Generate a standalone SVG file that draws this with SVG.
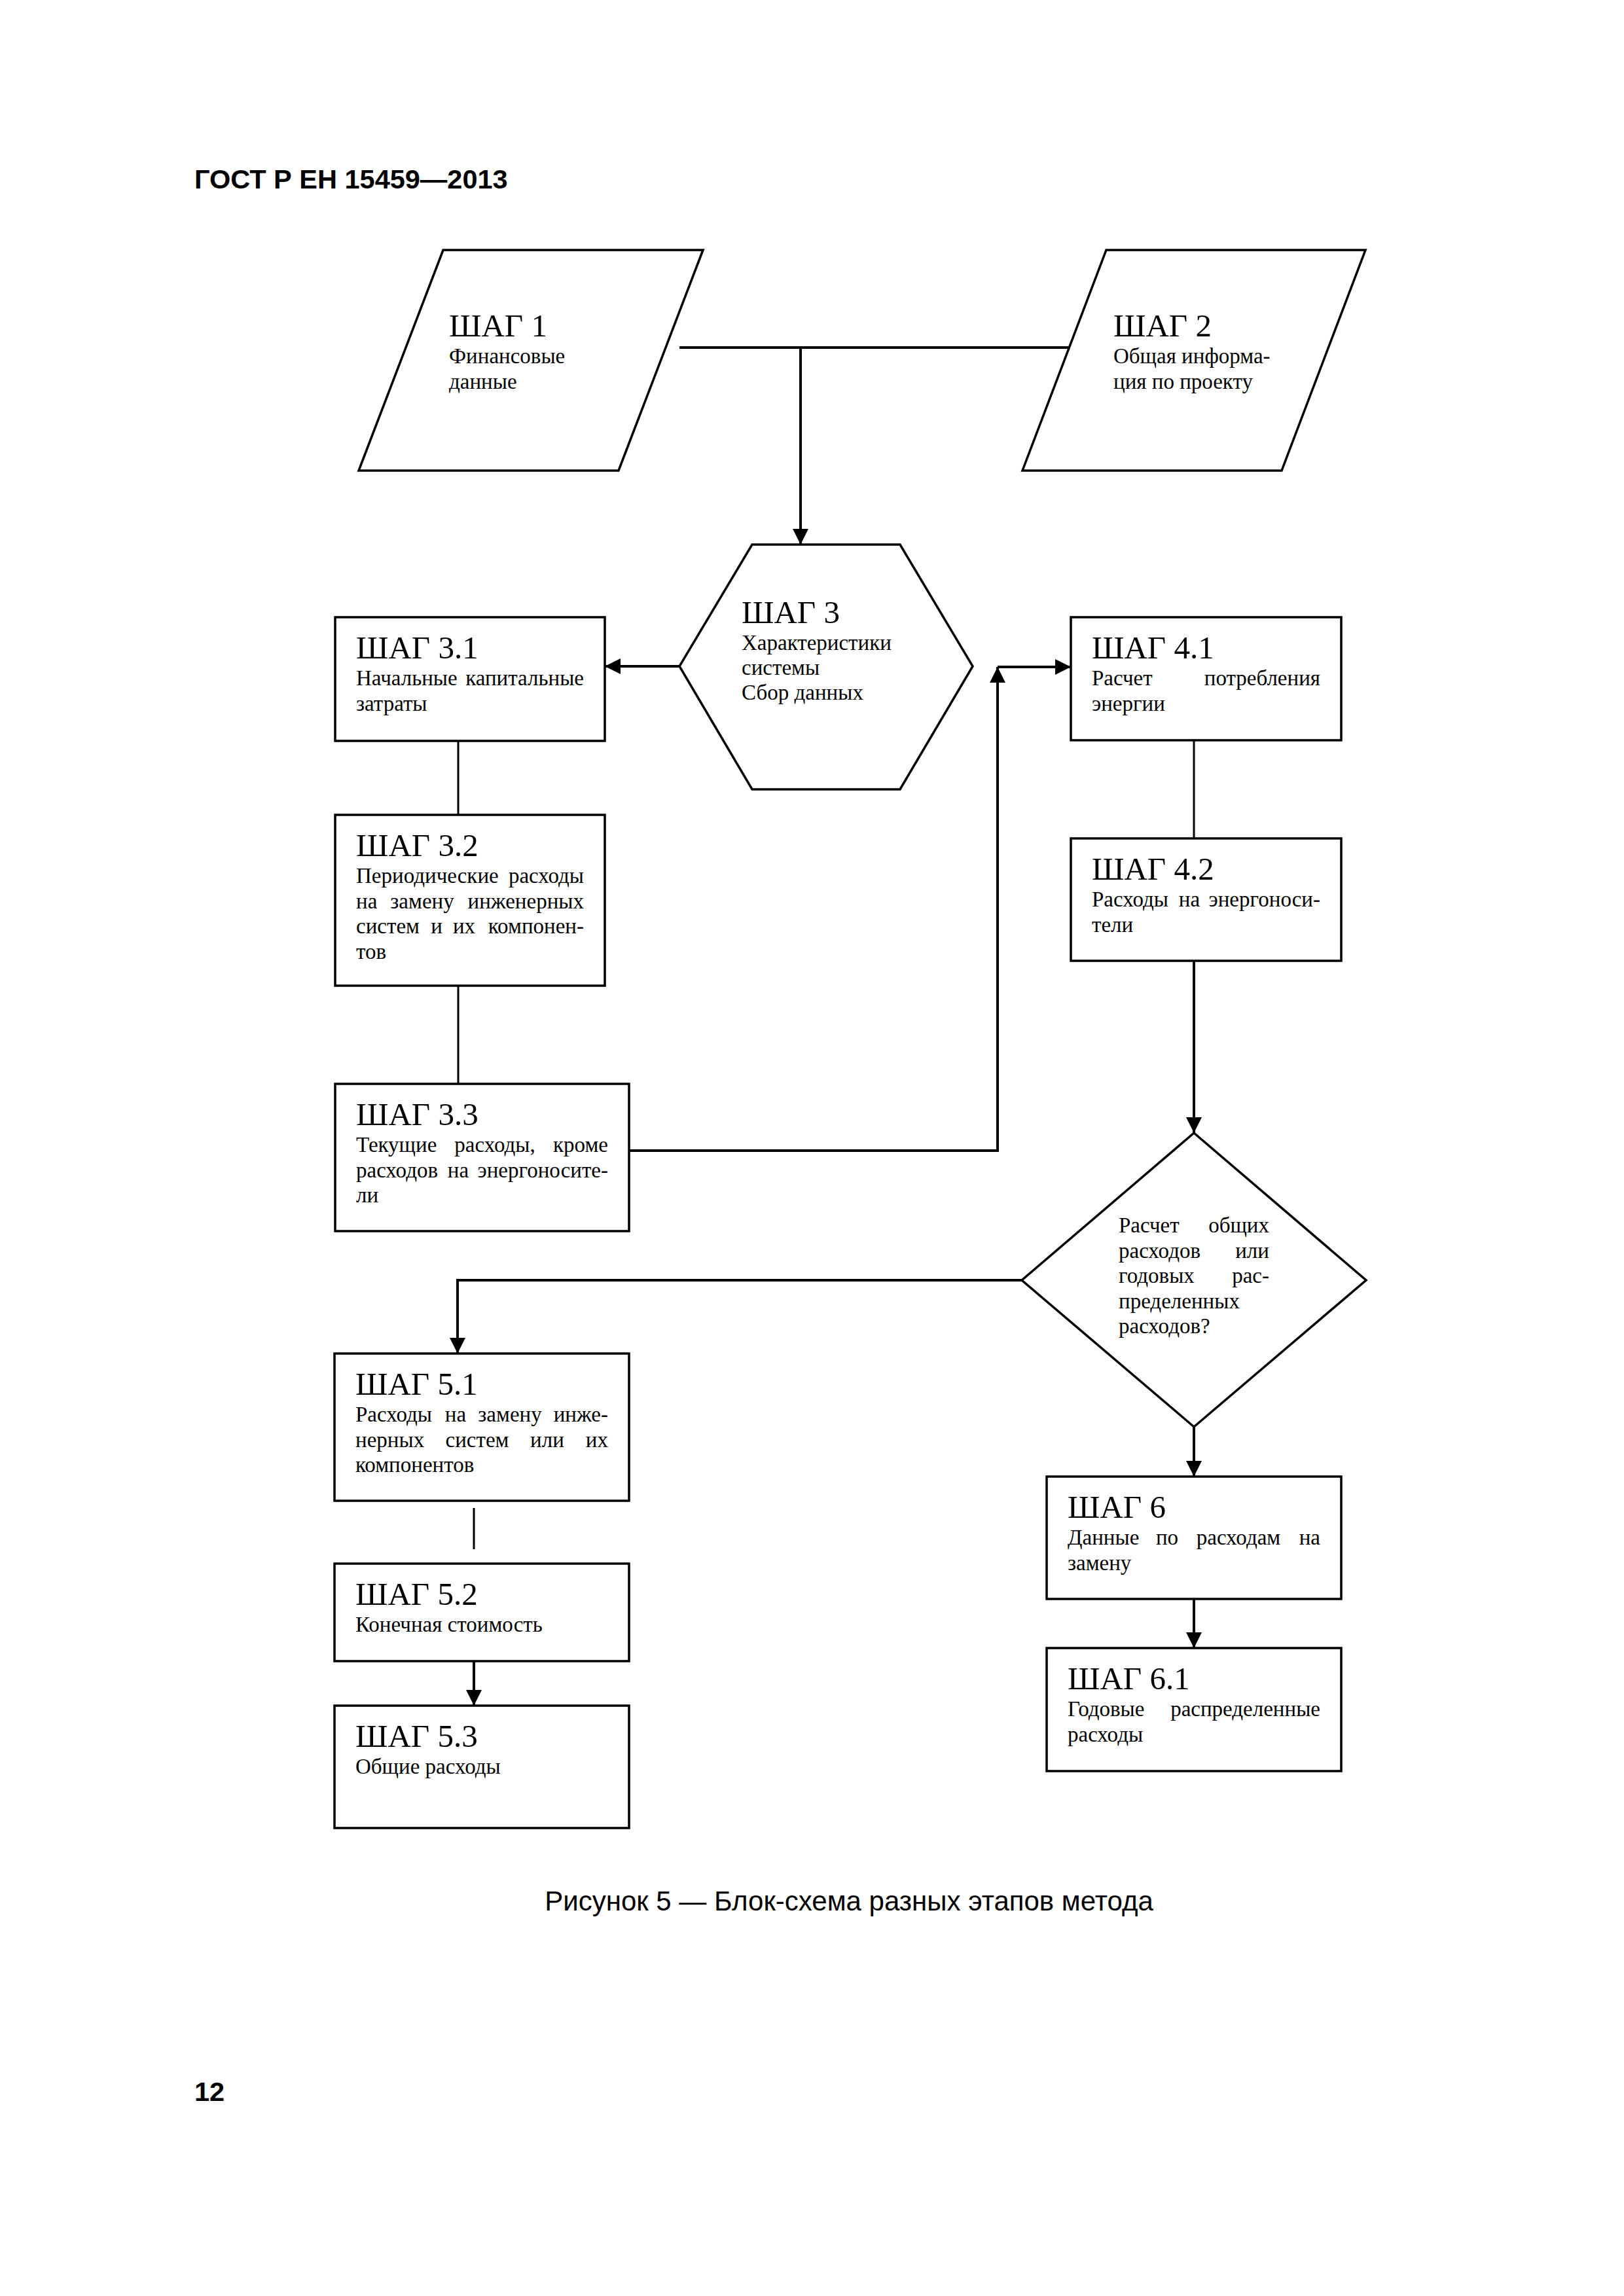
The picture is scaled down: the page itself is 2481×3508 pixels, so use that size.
<svg xmlns="http://www.w3.org/2000/svg" width="2481" height="3508" viewBox="0 0 2481 3508">
<style>
.shape{fill:#fff;stroke:#000;stroke-width:3.5}
.c{fill:none;stroke:#000;stroke-width:4}
.cl{fill:none;stroke:#000;stroke-width:3}
.t{font-family:"Liberation Serif","Times New Roman",serif;font-size:49px;fill:#000}
.b{font-family:"Liberation Serif","Times New Roman",serif;font-size:33px;fill:#000}
.e{text-anchor:end}
.m{text-anchor:middle}
.h{font-family:"Liberation Sans",Arial,sans-serif;font-weight:bold;font-size:41.5px;fill:#000}
.cap{font-family:"Liberation Sans",Arial,sans-serif;font-size:42px;fill:#000;text-anchor:middle}
</style>
<defs>
<marker id="arr" markerUnits="userSpaceOnUse" markerWidth="26" markerHeight="26" refX="24" refY="12" orient="auto">
<path d="M0,0 L24,12 L0,24 z" fill="#000"/>
</marker>
</defs>
<rect width="2481" height="3508" fill="#fff"/>
<text class="h" x="297" y="288">ГОСТ Р ЕН 15459—2013</text>

<g id="connectors">
<path class="c" d="M1038,531 H1634"/>
<path class="c" d="M1223,531 V832" marker-end="url(#arr)"/>
<path class="c" d="M1038,1018 H924" marker-end="url(#arr)"/>
<path class="cl" d="M700,1132 V1245"/>
<path class="cl" d="M700,1506 V1656"/>
<path class="c" d="M961,1758 H1524 V1019" marker-end="url(#arr)"/>
<path class="c" d="M1524,1019 H1636" marker-end="url(#arr)"/>
<path class="cl" d="M1824,1131 V1281"/>
<path class="c" d="M1824,1468 V1731" marker-end="url(#arr)"/>
<path class="c" d="M1561,1956 H699 V2068" marker-end="url(#arr)"/>
<path class="c" d="M1824,2180 V2256" marker-end="url(#arr)"/>
<path class="c" d="M1824,2443 V2518" marker-end="url(#arr)"/>
<path class="cl" d="M724,2304 V2367"/>
<path class="c" d="M724,2538 V2606" marker-end="url(#arr)"/>
</g>

<g id="step1">
<polygon class="shape" points="677,382 1074,382 945,719 548,719"/>
<text class="t" x="686" y="514">ШАГ 1</text>
<text class="b" x="686" y="555">Финансовые</text>
<text class="b" x="686" y="593.5">данные</text>
</g>

<g id="step2">
<polygon class="shape" points="1690,382 2086,382 1958,719 1562,719"/>
<text class="t" x="1701" y="514">ШАГ 2</text>
<text class="b" x="1701" y="555">Общая информа-</text>
<text class="b" x="1701" y="593.5">ция по проекту</text>
</g>

<g id="step3">
<polygon class="shape" points="1149,832 1375,832 1486,1018 1375,1206 1149,1206 1038,1018"/>
<text class="t" x="1133" y="952">ШАГ 3</text>
<text class="b" x="1133" y="993">Характеристики</text>
<text class="b" x="1133" y="1031">системы</text>
<text class="b" x="1133" y="1069">Сбор данных</text>
</g>

<g id="step3_1">
<rect class="shape" x="512" y="943" width="412" height="189"/>
<text class="t" x="544" y="1006">ШАГ 3.1</text>
<text class="b" x="544" y="1047">Начальные</text>
<text class="b e" x="892" y="1047">капитальные</text>
<text class="b" x="544" y="1085.5">затраты</text>
</g>

<g id="step3_2">
<rect class="shape" x="512" y="1245" width="412" height="261"/>
<text class="t" x="544" y="1308">ШАГ 3.2</text>
<text class="b" x="544" y="1349">Периодические</text>
<text class="b e" x="892" y="1349">расходы</text>
<text class="b" x="544" y="1387.5">на</text>
<text class="b m" x="645" y="1387.5">замену</text>
<text class="b e" x="892" y="1387.5">инженерных</text>
<text class="b" x="544" y="1426">систем</text>
<text class="b m" x="667" y="1426">и</text>
<text class="b m" x="709" y="1426">их</text>
<text class="b e" x="892" y="1426">компонен-</text>
<text class="b" x="544" y="1464.5">тов</text>
</g>

<g id="step3_3">
<rect class="shape" x="512" y="1656" width="449" height="225"/>
<text class="t" x="544" y="1719">ШАГ 3.3</text>
<text class="b" x="544" y="1760">Текущие</text>
<text class="b m" x="756" y="1760">расходы,</text>
<text class="b e" x="929" y="1760">кроме</text>
<text class="b" x="544" y="1798.5">расходов</text>
<text class="b m" x="700" y="1798.5">на</text>
<text class="b e" x="929" y="1798.5">энергоносите-</text>
<text class="b" x="544" y="1837">ли</text>
</g>

<g id="step4_1">
<rect class="shape" x="1636" y="943" width="413" height="188"/>
<text class="t" x="1668" y="1006">ШАГ 4.1</text>
<text class="b" x="1668" y="1047">Расчет</text>
<text class="b e" x="2017" y="1047">потребления</text>
<text class="b" x="1668" y="1085.5">энергии</text>
</g>

<g id="step4_2">
<rect class="shape" x="1636" y="1281" width="413" height="187"/>
<text class="t" x="1668" y="1344">ШАГ 4.2</text>
<text class="b" x="1668" y="1385">Расходы</text>
<text class="b m" x="1817" y="1385">на</text>
<text class="b e" x="2017" y="1385">энергоноси-</text>
<text class="b" x="1668" y="1423.5">тели</text>
</g>

<g id="decision">
<polygon class="shape" points="1824,1731 2087,1956 1824,2180 1561,1956"/>
<text class="b" x="1709" y="1883">Расчет</text>
<text class="b e" x="1939" y="1883">общих</text>
<text class="b" x="1709" y="1921.5">расходов</text>
<text class="b e" x="1939" y="1921.5">или</text>
<text class="b" x="1709" y="1960">годовых</text>
<text class="b e" x="1939" y="1960">рас-</text>
<text class="b" x="1709" y="1998.5">пределенных</text>
<text class="b" x="1709" y="2037">расходов?</text>
</g>

<g id="step5_1">
<rect class="shape" x="511" y="2068" width="450" height="225"/>
<text class="t" x="543" y="2131">ШАГ 5.1</text>
<text class="b" x="543" y="2172">Расходы</text>
<text class="b m" x="696" y="2172">на</text>
<text class="b m" x="779" y="2172">замену</text>
<text class="b e" x="929" y="2172">инже-</text>
<text class="b" x="543" y="2210.5">нерных</text>
<text class="b m" x="729" y="2210.5">систем</text>
<text class="b m" x="836" y="2210.5">или</text>
<text class="b e" x="929" y="2210.5">их</text>
<text class="b" x="543" y="2249">компонентов</text>
</g>

<g id="step5_2">
<rect class="shape" x="511" y="2389" width="450" height="149"/>
<text class="t" x="543" y="2452">ШАГ 5.2</text>
<text class="b" x="543" y="2493">Конечная стоимость</text>
</g>

<g id="step5_3">
<rect class="shape" x="511" y="2606" width="450" height="187"/>
<text class="t" x="543" y="2669">ШАГ 5.3</text>
<text class="b" x="543" y="2710">Общие расходы</text>
</g>

<g id="step6">
<rect class="shape" x="1599" y="2256" width="450" height="187"/>
<text class="t" x="1631" y="2319">ШАГ 6</text>
<text class="b" x="1631" y="2360">Данные</text>
<text class="b m" x="1783" y="2360">по</text>
<text class="b m" x="1892" y="2360">расходам</text>
<text class="b e" x="2017" y="2360">на</text>
<text class="b" x="1631" y="2398.5">замену</text>
</g>

<g id="step6_1">
<rect class="shape" x="1599" y="2518" width="450" height="188"/>
<text class="t" x="1631" y="2581">ШАГ 6.1</text>
<text class="b" x="1631" y="2622">Годовые</text>
<text class="b e" x="2017" y="2622">распределенные</text>
<text class="b" x="1631" y="2660.5">расходы</text>
</g>

<text class="cap" x="1297" y="2919">Рисунок 5 — Блок-схема разных этапов метода</text>
<text class="h" x="297" y="3210">12</text>
</svg>
